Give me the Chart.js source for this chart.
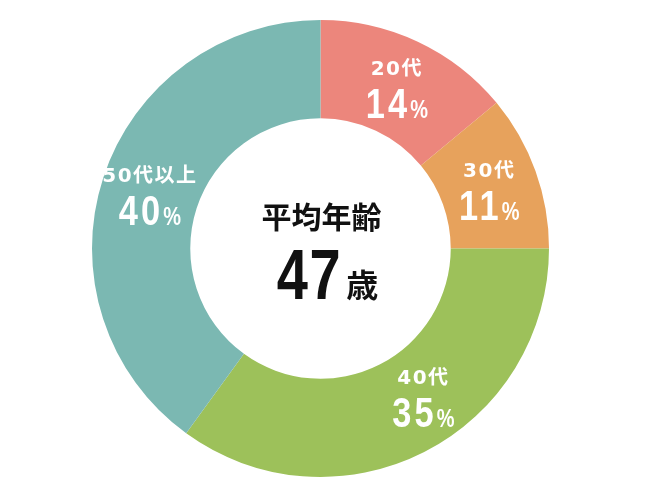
<!DOCTYPE html>
<html>
<head>
<meta charset="utf-8">
<script src="https://cdn.jsdelivr.net/npm/chart.js@4"></script>
<style>
  html, body { margin: 0; padding: 0; background: #fff; }
  #wrap { width: 650px; height: 500px; }
</style>
</head>
<body>
<div id="wrap"><canvas id="ageChart" width="650" height="500"></canvas></div>
<script>
(function(){
    const ageGroups = ["20代", "30代", "40代", "50代以上"];
    const shares = [14, 11, 35, 40];
    const sliceColors = ["#EC867C", "#E7A25C", "#9DC15A", "#7BB8B2"];
    const centerTitle = "平均年齢";
    const averageAge = "47";
    const ageUnit = "歳";

    const jpFont = '"Noto Sans CJK JP", "Noto Sans", sans-serif';
    const labelFont = '"DejaVu Sans", "Noto Sans CJK JP", sans-serif';
    const numFont = '"Liberation Sans", Arial, sans-serif';
    const squeeze = 0.8; // fake a condensed face
    const labelTurn = [0, 0, -8, 0]; // degrees, nudges the 40代 label up the arc

    function narrowWidth(ctx, text, size, spacing) {
        ctx.font = 'bold ' + size + 'px ' + numFont;
        ctx.letterSpacing = spacing + 'px';
        const w = ctx.measureText(text).width * squeeze;
        ctx.letterSpacing = '0px';
        return w;
    }

    function drawNarrow(ctx, text, x, y, size, spacing) {
        ctx.save();
        ctx.font = 'bold ' + size + 'px ' + numFont;
        ctx.letterSpacing = spacing + 'px';
        ctx.textAlign = 'left';
        ctx.translate(x, y);
        ctx.scale(squeeze, 1);
        ctx.fillText(text, 0, 0);
        ctx.restore();
    }

    // white labels on each slice, placed around the arc centroid
    const sliceLabels = {
        id: 'sliceLabels',
        afterDatasetsDraw(chart) {
            const ctx = chart.ctx;
            const meta = chart.getDatasetMeta(0);
            ctx.save();
            ctx.fillStyle = '#fff';
            ctx.textBaseline = 'alphabetic';
            meta.data.forEach((arc, i) => {
                const a = (arc.startAngle + arc.endAngle) / 2 + labelTurn[i] * Math.PI / 180;
                const r = (arc.innerRadius + arc.outerRadius) / 2;
                const px = arc.x + Math.cos(a) * r;
                const py = arc.y + Math.sin(a) * r;
                const name = ageGroups[i];
                const val = String(shares[i]);

                ctx.font = 'bold 20px ' + labelFont;
                ctx.letterSpacing = '1.5px';
                ctx.textAlign = 'center';
                ctx.fillText(name, px, py - 11);
                ctx.letterSpacing = '0px';

                const wNum = narrowWidth(ctx, val, 43, 4);
                const wPct = narrowWidth(ctx, '%', 25, 0);
                const x0 = px - (wNum + wPct) / 2;
                drawNarrow(ctx, val, x0, py + 32, 43, 4);
                drawNarrow(ctx, '%', x0 + wNum, py + 32, 25, 0);
            });
            ctx.restore();
        }
    };

    // average age in the hole
    const centerText = {
        id: 'centerText',
        afterDatasetsDraw(chart) {
            const ctx = chart.ctx;
            const arc = chart.getDatasetMeta(0).data[0];
            const cx = arc.x, cy = arc.y;
            ctx.save();
            ctx.fillStyle = '#111';
            ctx.textBaseline = 'alphabetic';
            ctx.textAlign = 'center';
            ctx.font = 'bold 30px ' + jpFont;
            ctx.fillText(centerTitle, cx + 1, cy - 21);

            const wNum = narrowWidth(ctx, averageAge, 70, 2);
            ctx.font = 'bold 32px ' + jpFont;
            const wUnit = ctx.measureText(ageUnit).width;
            const gap = 4;
            const x0 = cx + 7 - (wNum + gap + wUnit) / 2;
            drawNarrow(ctx, averageAge, x0, cy + 50, 70, 2);
            ctx.textAlign = 'left';
            ctx.font = 'bold 32px ' + jpFont;
            ctx.fillText(ageUnit, x0 + wNum + gap, cy + 48);
            ctx.restore();
        }
    };

    const ctx = document.getElementById('ageChart').getContext('2d');
    new Chart(ctx, {
        type: 'doughnut',
        data: {
            labels: ageGroups,
            datasets: [{
                data: shares,
                backgroundColor: sliceColors,
                borderWidth: 0
            }]
        },
        options: {
            responsive: false,
            animation: false,
            cutout: '57%',
            layout: { padding: { top: 20, bottom: 23, left: 0, right: 9 } },
            plugins: {
                legend: { display: false },
                tooltip: { enabled: false }
            }
        },
        plugins: [sliceLabels, centerText]
    });
})()
</script>
</body>
</html>
